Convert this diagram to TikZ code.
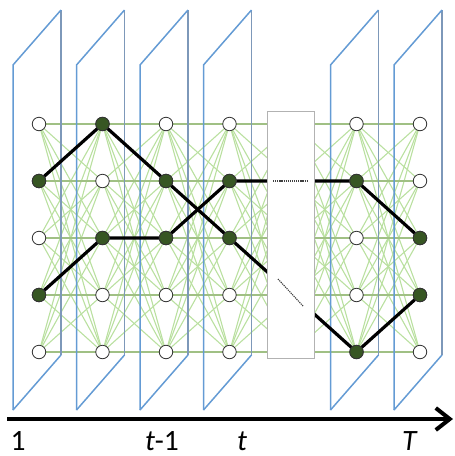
\documentclass[tikz,border=0pt]{standalone}
\usepackage{fontspec}
\setmainfont{Carlito}
\usetikzlibrary{arrows.meta}
\definecolor{planeblue}{RGB}{100,155,212}
\definecolor{planegray}{RGB}{125,152,185}
\definecolor{edgegreen}{RGB}{186,224,160}
\definecolor{horgreen}{RGB}{160,192,132}
\definecolor{nodegreen}{RGB}{55,86,35}
\pgfdeclarelayer{bg}
\pgfdeclarelayer{mid}
\pgfsetlayers{bg,mid,main}
\tikzset{
  state/.style={circle, draw=black!80, line width=0.8pt, fill=white, minimum size=13.5pt, inner sep=0pt},
  active/.style={state, fill=nodegreen},
  trans/.style={draw=edgegreen, line width=1.1pt},
  htrans/.style={draw=horgreen, line width=1.2pt},
  planeleft/.style={draw=planeblue, line width=1.5pt},
  planeright/.style={draw=planegray, line width=1.5pt},
  vpath/.style={draw=black, line width=3.2pt, line join=round},
  gapdots/.style={draw=black!75, line width=1.1pt, dash pattern=on 1.2pt off 0.9pt},
  lab/.style={anchor=base, inner sep=0pt, text depth=0pt, font=\fontsize{29.5pt}{29.5pt}\selectfont}
}
\begin{document}
\begin{tikzpicture}[x=1pt,y=-1pt]
\useasboundingbox (0,0) rectangle (455,456);
% state nodes
\foreach \c in {0,1,2,3,5,6}{
  \foreach \r in {0,...,4}{
    \node[state] (n-\c-\r) at ({39+63.5*\c},{124+57*\r}) {};
  }
}
\foreach \r in {0,...,4}{
  \coordinate (n-4-\r) at ({39+63.5*4},{124+57*\r});
}
\foreach \c/\r in {0/1,0/3,1/0,1/2,2/1,2/2,3/1,3/2,5/1,5/4,6/2,6/3}{
  \node[active] at (n-\c-\r) {};
}
% transitions
\begin{pgfonlayer}{bg}
\foreach \c [evaluate=\c as \n using int(\c+1)] in {0,...,5}{
  \foreach \r in {0,...,4}{
    \foreach \s in {0,...,4}{
      \draw[trans] (n-\c-\r.center) -- (n-\n-\s.center);
    }
  }
}
\foreach \c [evaluate=\c as \n using int(\c+1)] in {0,...,5}{
  \foreach \r in {0,...,4}{
    \draw[htrans] (n-\c-\r.center) -- (n-\n-\r.center);
  }
}
% planes
\foreach \i in {0,1,2,3,5,6}{
  \coordinate (pa-\i) at ({13+63.5*\i},65);
  \coordinate (pb-\i) at ({13+63.5*\i},410);
  \coordinate (pc-\i) at ({61+63.5*\i},10);
  \coordinate (pd-\i) at ({61+63.5*\i},355);
  \draw[planeright] (pc-\i) -- (pd-\i);
  \draw[planeleft] (pb-\i) -- (pa-\i) -- (pc-\i);
  \draw[planeleft] (pb-\i) -- (pd-\i);
}
\end{pgfonlayer}
% decoded paths and gap box
\begin{pgfonlayer}{mid}
\draw[vpath] (n-0-1.center) -- (n-1-0.center) -- (n-2-1.center) -- (n-3-2.center) -- (n-4-3) -- (n-5-4.center) -- (n-6-3.center);
\draw[vpath] (n-0-3.center) -- (n-1-2.center) -- (n-2-2.center) -- (n-3-1.center) -- (n-4-1) -- (n-5-1.center) -- (n-6-2.center);
\node[draw=black!30, line width=1pt, fill=white, minimum width=47pt, minimum height=247pt, inner sep=0pt] (gap) at (290.5,234.5) {};
\coordinate (g1) at (273,181);
\coordinate (g2) at (308,181);
\coordinate (g3) at (278,279);
\coordinate (g4) at (303,306);
\draw[gapdots] (g1) -- (g2);
\draw[gapdots] (g3) -- (g4);
\end{pgfonlayer}
% time axis
\coordinate (ta) at (7,419);
\coordinate (tb) at (453,419);
\draw[line width=4pt, -{Straight Barb[length=14pt,width=22pt]}] (ta) -- (tb);
\node[lab] (l1) at (18,450.5) {1};
\node[lab] (l2) at (162,450.5) {\textit{t}-1};
\node[lab] (l3) at (242,450.5) {\textit{t}};
\node[lab] (l4) at (410,450.5) {\textit{T}};
\end{tikzpicture}
\end{document}
